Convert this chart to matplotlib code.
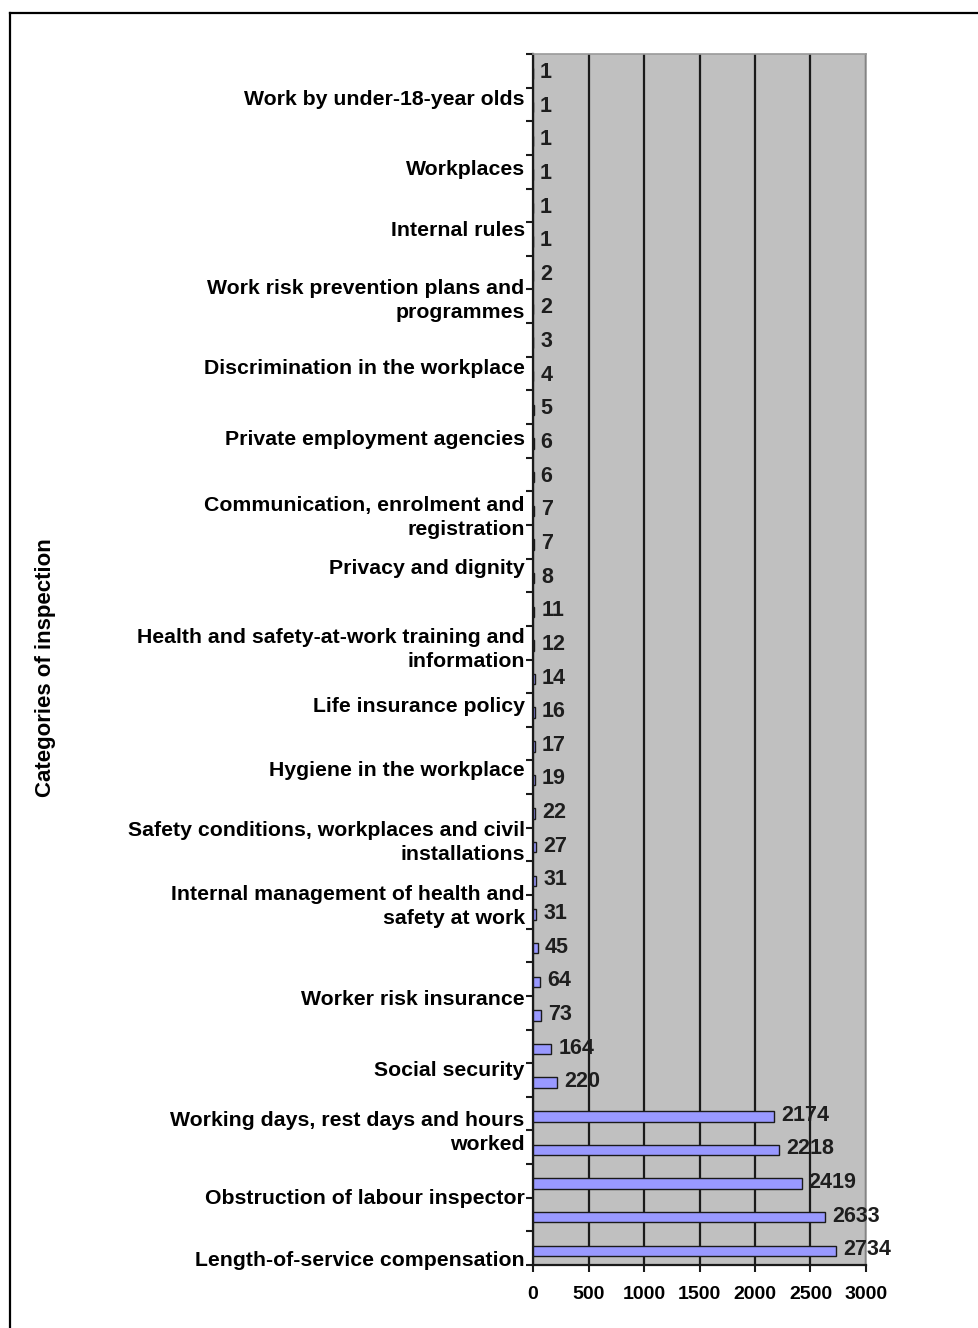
import numpy as np
import matplotlib
matplotlib.use("Agg")
import matplotlib.pyplot as plt
from matplotlib.lines import Line2D
from matplotlib.ticker import FixedLocator

# Values, top to bottom as shown
values = [1, 1, 1, 1, 1, 1, 2, 2, 3, 4, 5, 6, 6, 7, 7, 8, 11, 12, 14, 16,
          17, 19, 22, 27, 31, 31, 45, 64, 73, 164, 220, 2174, 2218, 2419, 2633, 2734]

# Category labels shown (every other category), top to bottom
category_labels = [
    "Work by under-18-year olds",
    "Workplaces",
    "Internal rules",
    "Work risk prevention plans and\nprogrammes",
    "Discrimination in the workplace",
    "Private employment agencies",
    "Communication, enrolment and\nregistration",
    "Privacy and dignity",
    "Health and safety-at-work training and\ninformation",
    "Life insurance policy",
    "Hygiene in the workplace",
    "Safety conditions, workplaces and civil\ninstallations",
    "Internal management of health and\nsafety at work",
    "Worker risk insurance",
    "Social security",
    "Working days, rest days and hours\nworked",
    "Obstruction of labour inspector",
    "Length-of-service compensation",
]

x_ticks = [0, 500, 1000, 1500, 2000, 2500, 3000]
axis_title = "Categories of inspection"

# Layout: vertical placement of the (Excel-style) category labels, in pixels
label_px = [97, 167, 228, 296, 366, 437, 513, 566, 645, 704, 768, 838, 902,
            997, 1068, 1128, 1197, 1258]

plt.rcParams['font.family'] = ['Liberation Sans', 'DejaVu Sans']

W, H = 979, 1328
AX_TOP, AX_BOT = 54, 1265
fig = plt.figure(figsize=(W / 100, H / 100), dpi=100)
ax = fig.add_axes([533 / W, 1 - AX_BOT / H, (866 - 533) / W, (AX_BOT - AX_TOP) / H])

n = len(values)
ypos = np.arange(n)
ax.set_facecolor('#C0C0C0')
ax.barh(ypos + 0.08, values, height=0.31, color='#9999FF', edgecolor='#1a1a1a',
        linewidth=1.0, zorder=3)

for y, v in zip(ypos, values):
    ax.annotate(str(v), xy=(v, y + 0.05), xytext=(7, 0), textcoords='offset pixels',
                ha='left', va='center', fontsize=15.5, fontweight='bold',
                color='#1e1e1e', zorder=4)

ax.set_xlim(0, 3000)
ax.set_ylim(n - 0.5, -0.5)

ax.set_xticks(x_ticks)
ax.set_xticklabels([str(t) for t in x_ticks], fontsize=14, fontweight='bold')
ax.tick_params(axis='x', direction='out', length=5, width=1.5, color='#1a1a1a', pad=10)
ax.xaxis.grid(True, color='#1a1a1a', linewidth=1.6, zorder=1)
ax.set_axisbelow(True)

unit = (AX_BOT - AX_TOP) / n
label_pos = [(p - AX_TOP) / unit - 0.5 for p in label_px]
ax.set_yticks(label_pos)
ax.set_yticklabels(category_labels, fontsize=15.3, fontweight='bold',
                   linespacing=1.35, ha='right')
ax.tick_params(axis='y', which='major', length=0, pad=6)
ax.yaxis.set_minor_locator(FixedLocator(np.arange(-0.5, n, 1.0)))
ax.tick_params(axis='y', which='minor', direction='out', length=5, width=1.5,
               color='#1a1a1a')

for s in ['left', 'bottom']:
    ax.spines[s].set_color('#1a1a1a')
    ax.spines[s].set_linewidth(1.6)
for s in ['top', 'right']:
    ax.spines[s].set_color('#9a9a9a')
    ax.spines[s].set_linewidth(1.2)

fig.text(46 / W, 1 - 668 / H, axis_title, rotation=90, ha='center', va='center',
         fontsize=16, fontweight='bold')

# Outer frame (cut off at right and bottom)
fig.add_artist(Line2D([10 / W, 10 / W], [0, 1 - 13 / H], transform=fig.transFigure,
                      color='black', linewidth=1.6))
fig.add_artist(Line2D([10 / W, 1], [1 - 13 / H, 1 - 13 / H], transform=fig.transFigure,
                      color='black', linewidth=1.6, solid_capstyle='projecting'))

fig.savefig('out.png', dpi=100)
